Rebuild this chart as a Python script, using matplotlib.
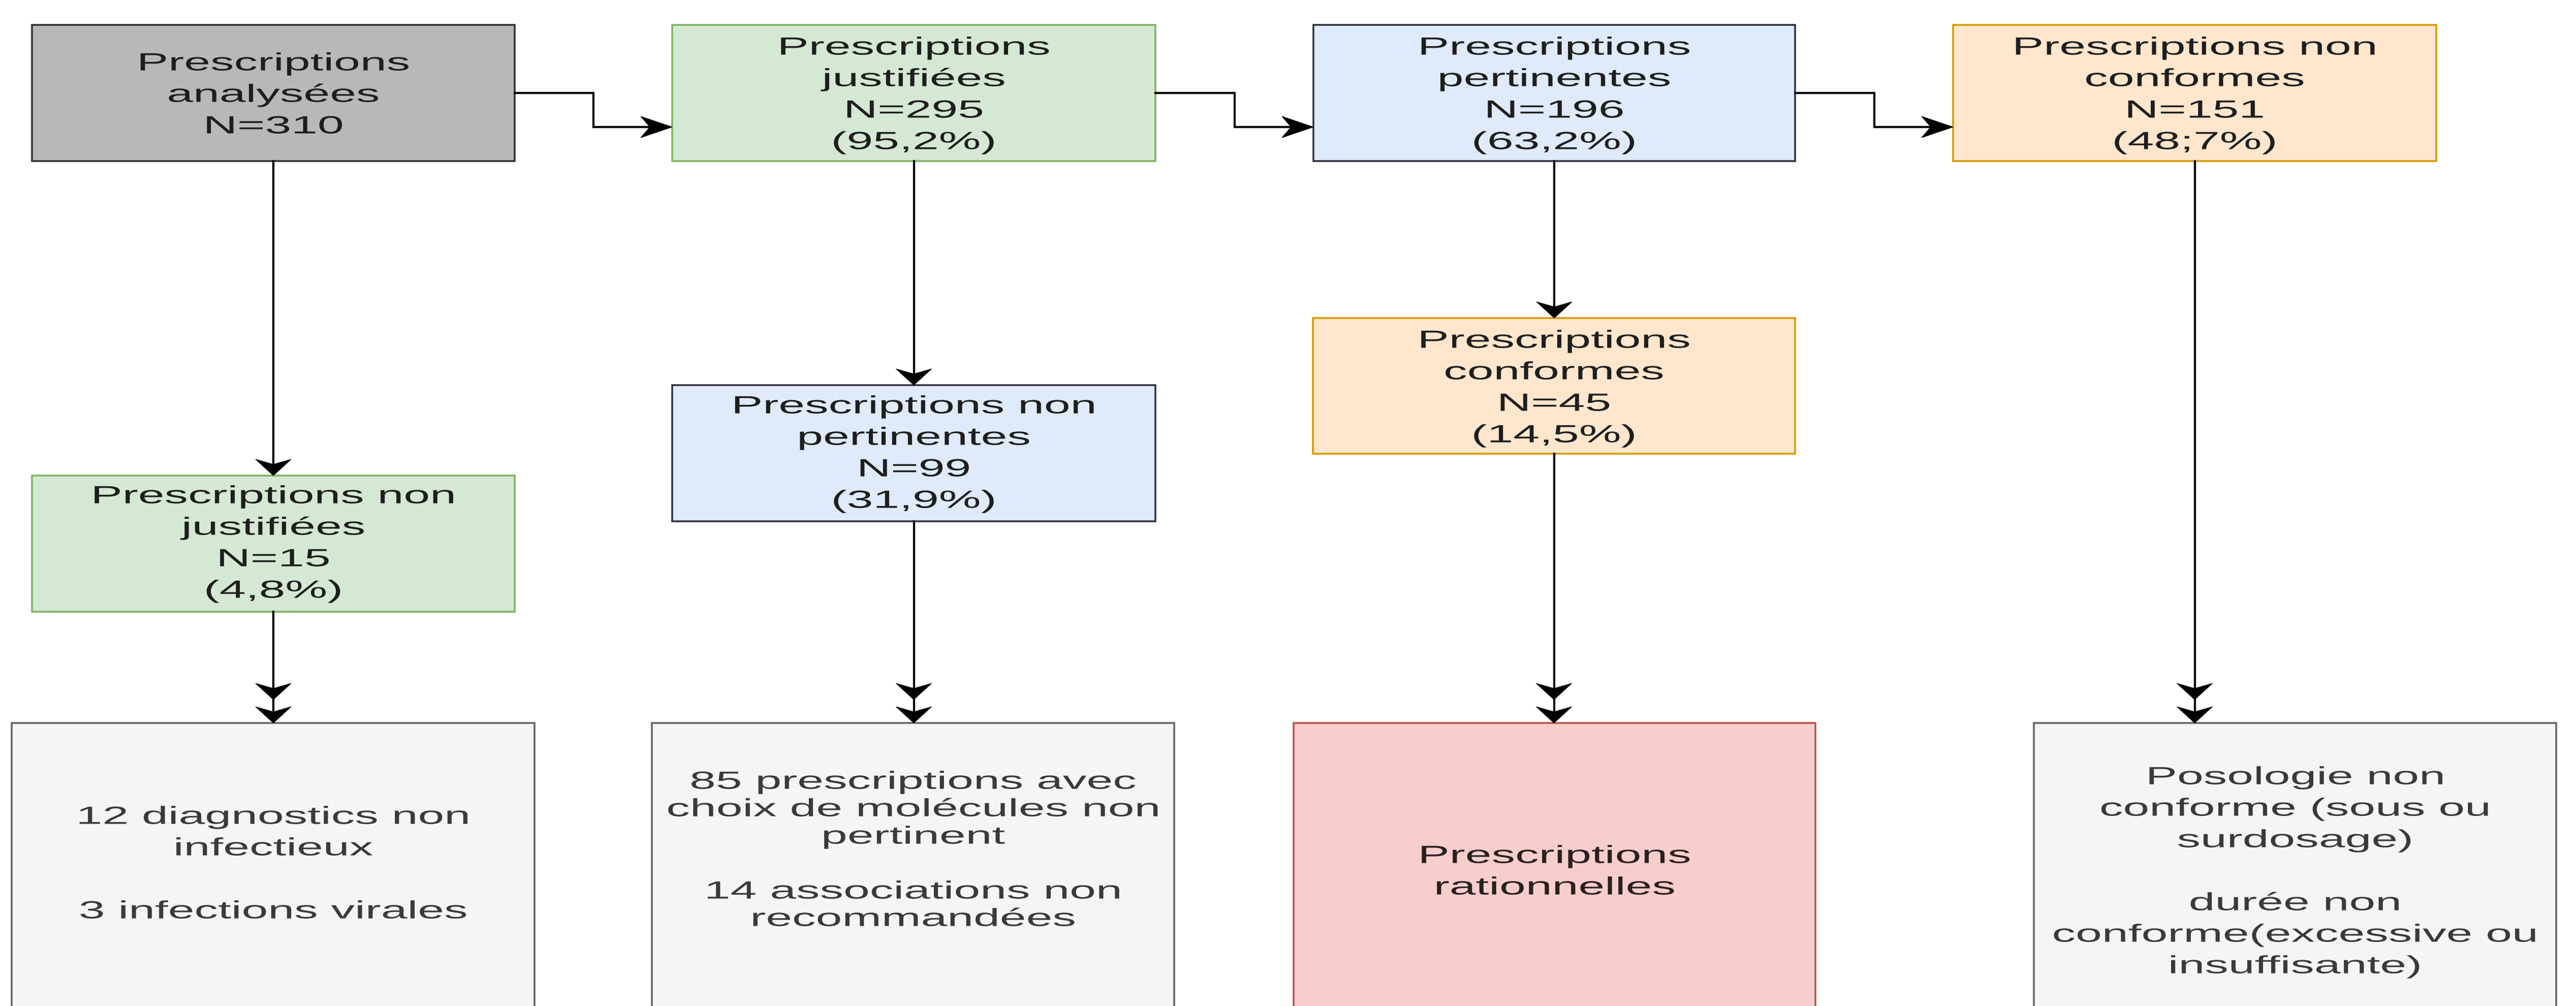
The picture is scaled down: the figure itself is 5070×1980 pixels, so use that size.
import matplotlib
matplotlib.use("Agg")
import matplotlib.pyplot as plt
from matplotlib.patches import Rectangle, Polygon
from matplotlib.patheffects import AbstractPathEffect
from matplotlib.transforms import Affine2D

W, H = 5070, 1980
DPI = 60

# ---- flowchart content ----
labels = [
    "Prescriptions\nanalysées\nN=310",
    "Prescriptions\njustifiées\nN=295\n(95,2%)",
    "Prescriptions\npertinentes\nN=196\n(63,2%)",
    "Prescriptions non\nconformes\nN=151\n(48;7%)",
    "Prescriptions non\njustifiées\nN=15\n(4,8%)",
    "Prescriptions non\npertinentes\nN=99\n(31,9%)",
    "Prescriptions\nconformes\nN=45\n(14,5%)",
    "12 diagnostics non\ninfectieux\n\n3 infections virales",
    "85 prescriptions avec\nchoix de molécules non\npertinent\n\n14 associations non\nrecommandées",
    "Prescriptions\nrationnelles",
    "Posologie non\nconforme (sous ou\nsurdosage)\n\ndurée non\nconforme(excessive ou\ninsuffisante)",
]

# ---- layout (pixel coordinates, y downward) ----
box_x0 = [63, 1323, 2585, 3844, 63, 1323, 2584, 23, 1283, 2546, 4003]
box_x1 = [1013, 2274, 3533, 4795, 1013, 2274, 3533, 1052, 2311, 3573, 5031]
box_y0 = [49, 49, 49, 49, 936, 758, 626, 1423, 1423, 1423, 1423]
box_y1 = [317, 317, 317, 317, 1204, 1026, 893, 2010, 2010, 2010, 2010]
text_cy = [183, 183, 183, 183, 1066, 889, 760, 1697, 1670, 1712, 1712]
line_step = [62, 62, 62, 62, 62, 62, 62, 62, 54, 62, 62]

fills = ["#b8b8b8", "#d5e8d4", "#dfeafb", "#ffe6cc", "#d5e8d4", "#dfeafb",
         "#ffe6cc", "#f5f5f5", "#f5f5f5", "#f8cecc", "#f5f5f5"]
edges = ["#333333", "#82b366", "#30343c", "#d79b00", "#82b366", "#30343c",
         "#d79b00", "#666666", "#666666", "#b85450", "#666666"]
tcolors = ["#1e1e1e"] * 7 + ["#3a3a3a", "#3a3a3a", "#2a2020", "#3a3a3a"]

# connections
elbows = [(0, 1), (1, 2), (2, 3)]
verticals = [(0, 4, 1), (4, 7, 2), (1, 5, 1), (5, 8, 2), (2, 6, 1), (6, 9, 2), (3, 10, 2)]

EM = 49        # font em size in px (vertical)
SX = 1.90      # horizontal stretch of the source picture


def pt(px):
    return px * 72.0 / DPI


fig = plt.figure(figsize=(W / DPI, H / DPI), dpi=DPI)
ax = fig.add_axes([0, 0, 1, 1])
ax.set_xlim(0, W)
ax.set_ylim(H, 0)
ax.axis("off")


class StretchX(AbstractPathEffect):
    """Stretch rendered text horizontally about its anchor x."""

    def __init__(self, sx, x_data):
        super().__init__()
        self.sx = sx
        self.x_data = x_data

    def draw_path(self, renderer, gc, tpath, affine, rgbFace=None):
        cx = ax.transData.transform((self.x_data, 0))[0]
        t = affine + Affine2D().translate(-cx, 0).scale(self.sx, 1).translate(cx, 0)
        renderer.draw_path(gc, tpath, t, rgbFace)


def draw_box(i):
    ax.add_patch(Rectangle((box_x0[i], box_y0[i]), box_x1[i] - box_x0[i],
                           box_y1[i] - box_y0[i], facecolor=fills[i],
                           edgecolor=edges[i], lw=pt(3.6), zorder=2))
    lines = labels[i].split("\n")
    cap = 0.716 * EM
    n = len(lines)
    cx = 0.5 * (box_x0[i] + box_x1[i])
    for k, line in enumerate(lines):
        if not line:
            continue
        yc = text_cy[i] + (k - (n - 1) / 2.0) * line_step[i]
        ax.text(cx, yc + cap / 2.0, line, ha="center", va="baseline",
                fontsize=pt(EM), family="Liberation Sans", color=tcolors[i],
                zorder=4, path_effects=[StretchX(SX, cx)])


def head_down(x, y, L=32, Wd=35, notch=10):
    ax.add_patch(Polygon([(x, y), (x - Wd, y - L), (x, y - L + notch), (x + Wd, y - L)],
                         closed=True, facecolor="black", edgecolor="black",
                         lw=pt(1), zorder=5))


def head_right(x, y, L=62, Wd=21, notch=18):
    ax.add_patch(Polygon([(x, y), (x - L, y - Wd), (x - L + notch, y), (x - L, y + Wd)],
                         closed=True, facecolor="black", edgecolor="black",
                         lw=pt(1), zorder=5))


for i in range(len(labels)):
    draw_box(i)

LW = pt(4.2)
for s, d in elbows:
    xs = box_x1[s]
    xd = box_x0[d]
    ys = 0.5 * (box_y0[s] + box_y1[s])
    yd = box_y0[d] + 0.75 * (box_y1[d] - box_y0[d])
    xm = 0.5 * (xs + xd)
    ax.plot([xs, xm, xm, xd - 30], [ys, ys, yd, yd], color="black", lw=LW,
            solid_joinstyle="miter", zorder=3)
    head_right(xd, yd)

for s, d, nh in verticals:
    x = 0.5 * (box_x0[s] + box_x1[s])
    ys = box_y1[s]
    yd = box_y0[d]
    ax.plot([x, x], [ys, yd - 15], color="black", lw=LW, zorder=3)
    head_down(x, yd)
    if nh == 2:
        head_down(x, yd - 46)

fig.savefig("out.png", dpi=DPI, facecolor="white")
